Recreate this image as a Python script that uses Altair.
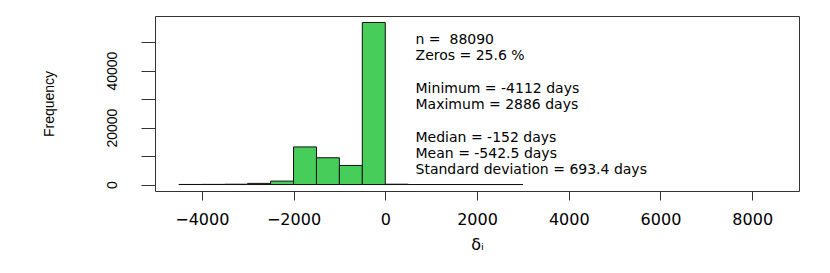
import altair as alt
import pandas as pd

# ---- data ----
bin_starts = [-4500, -4000, -3500, -3000, -2500, -2000, -1500, -1000, -500,
              0, 500, 1000, 1500, 2000, 2500]
bin_width = 500
counts = [20, 50, 100, 400, 1200, 13200, 9400, 6700, 56900,
          107, 6, 3, 2, 1, 1]

stat_lines = [
    "n = \u00a088090",
    "Zeros = 25.6 %",
    "",
    "Minimum = -4112 days",
    "Maximum = 2886 days",
    "",
    "Median = -152 days",
    "Mean = -542.5 days",
    "Standard deviation = 693.4 days",
]

x_ticks = [-4000, -2000, 0, 2000, 4000, 6000, 8000]
y_ticks = [0, 10000, 20000, 30000, 40000, 50000]
y_labelled = [0, 20000, 40000]
x_title = "\u03b4\u1d62"
y_title = "Frequency"

# ---- layout (R-style 4% padded limits) ----
xlim = (-4500, 8500)
xpad = 0.04 * (xlim[1] - xlim[0])
ymax = max(counts)
ypad = 0.04 * ymax
W, H = 644, 175

bars = pd.DataFrame({
    "start": bin_starts,
    "end": [b + bin_width for b in bin_starts],
    "count": counts,
})

units_per_px = (ymax + 2 * ypad) / H
text_x = 660
first_line = 50776
line_step = 16.3 * units_per_px
texts = pd.DataFrame({
    "start": [text_x] * len(stat_lines),
    "count": [first_line - i * line_step for i in range(len(stat_lines))],
    "label": stat_lines,
})

xscale = alt.Scale(domain=[xlim[0] - xpad, xlim[1] + xpad], nice=False, zero=False)
yscale = alt.Scale(domain=[-ypad, ymax + ypad], nice=False, zero=False)

label_expr = "indexof([%s], datum.value) >= 0 ? datum.label : ''" % ",".join(
    str(v) for v in y_labelled)

xaxis = alt.Axis(
    values=x_ticks, format="d", domain=False, grid=False, tickSize=9,
    tickColor="#333", labelFont="DejaVu Sans", labelFontSize=16,
    labelColor="black", labelPadding=11, labelFlush=False, labelOverlap=False,
    title=x_title, titleFont="DejaVu Sans", titleFontSize=16,
    titleFontWeight="normal", titleColor="black", titleX=W / 2, titleY=53,
    titleAlign="center", titleBaseline="middle",
)
yaxis = alt.Axis(
    values=y_ticks, format="d", labelExpr=label_expr, domain=False, grid=False,
    tickSize=14, tickColor="#333", labelFont="Liberation Sans",
    labelFontSize=14, labelColor="black", labelAngle=270, labelAlign="center",
    labelBaseline="bottom", labelPadding=22, labelFlush=False,
    labelOverlap=False, title=y_title, titleFont="Liberation Sans",
    titleFontSize=14, titleFontWeight="normal", titleColor="black",
    titleAngle=270, titleX=-106, titleY=H / 2, titleAlign="center",
    titleBaseline="middle",
)

bar_layer = alt.Chart(bars).mark_rect(
    fill="#46CD5A", stroke="#111", strokeWidth=1
).encode(
    x=alt.X("start:Q", scale=xscale, axis=xaxis, title=x_title),
    x2="end:Q",
    y=alt.Y("count:Q", scale=yscale, axis=yaxis, title=y_title),
    y2=alt.datum(0),
)

text_layer = alt.Chart(texts).mark_text(
    align="left", baseline="middle", font="DejaVu Sans", fontSize=14,
    color="black"
).encode(
    x=alt.X("start:Q", scale=xscale, axis=xaxis, title=x_title),
    y=alt.Y("count:Q", scale=yscale, axis=yaxis, title=y_title),
    text="label:N",
)

chart = alt.layer(bar_layer, text_layer).properties(
    width=W, height=H,
    autosize=alt.AutoSizeParams(type="none"),
    padding={"left": 147, "top": 8, "right": 23, "bottom": 74},
).configure(
    background="white"
).configure_view(
    stroke="#333", strokeWidth=1
)

chart.save("out.html", embed_options={"renderer": "svg", "actions": False})
